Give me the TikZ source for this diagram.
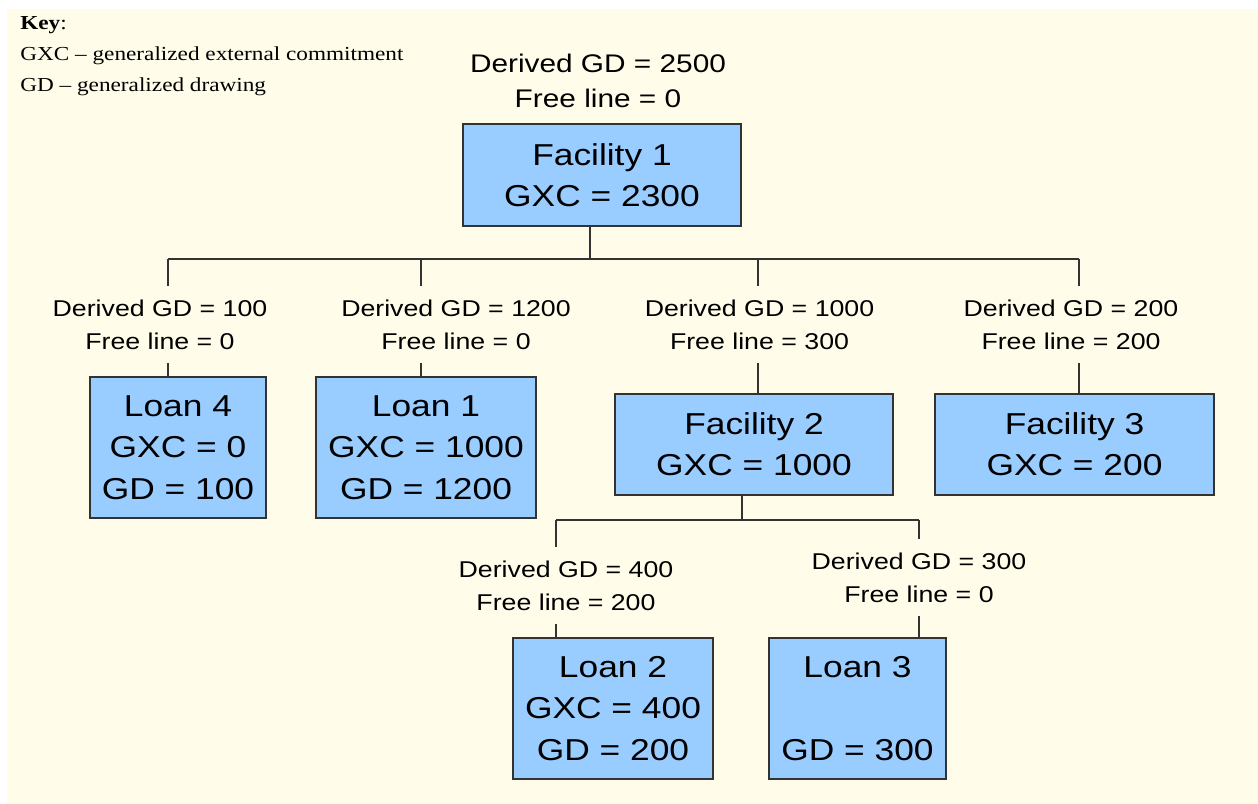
\documentclass[tikz,border=0pt]{standalone}
\usepackage{fontspec}
\setmainfont{Liberation Sans}[FakeStretch=1.17]
\newfontfamily\keyfont{Liberation Serif}[FakeStretch=1.17]
\definecolor{bgcream}{RGB}{255,253,234}
\definecolor{boxblue}{RGB}{153,204,255}
\definecolor{edgegray}{RGB}{51,51,51}

\tikzset{
    acct/.style={draw=edgegray, line width=0.9pt, fill=boxblue, inner sep=0pt, align=center, font=\fontsize{17.2}{23.5}\selectfont},
    gdlabel/.style={inner sep=0pt, minimum height=1.52cm, align=center, font=\fontsize{13}{18.8}\selectfont},
    tie/.style={draw=edgegray, line width=0.7pt}
}

\begin{document}
\begin{tikzpicture}[x=0.02cm, y=-0.02cm]
    \useasboundingbox (0,0) rectangle (1258,804);
    \fill[bgcream] (7,9) rectangle (1258,804);

    \node[anchor=north west, align=left, inner sep=0pt, font=\keyfont\fontsize{11.3}{17.6}\selectfont] (key) at (20,16) {\spaceskip=0.33em\relax\textbf{Key}:\\ GXC \textendash\ generalized external commitment\\ GD \textendash\ generalized drawing};

    \node[inner sep=0pt, align=center, font=\fontsize{14.5}{19.9}\selectfont] (toplbl) at (598,81) {Derived GD = 2500\\ Free line = 0};
    \node[acct, minimum width=5.56cm, minimum height=2.04cm] (fac1) at (602,175) {Facility 1\\ GXC = 2300};

    \node[gdlabel] (gd4) at (160,324.5) {Derived GD = 100\\ Free line = 0};
    \node[gdlabel] (gd1) at (456,324.5) {Derived GD = 1200\\ Free line = 0};
    \node[gdlabel] (gdf2) at (759.5,324.5) {Derived GD = 1000\\ Free line = 300};
    \node[gdlabel] (gdf3) at (1071,324.5) {Derived GD = 200\\ Free line = 200};

    \node[acct, minimum width=3.52cm, minimum height=2.82cm] (loan4) at (178,447.5) {Loan 4\\ GXC = 0\\ GD = 100};
    \node[acct, minimum width=4.4cm, minimum height=2.82cm] (loan1) at (426,447.5) {Loan 1\\ GXC = 1000\\ GD = 1200};
    \node[acct, minimum width=5.56cm, minimum height=2.02cm] (fac2) at (754,444.5) {Facility 2\\ GXC = 1000};
    \node[acct, minimum width=5.58cm, minimum height=2.02cm] (fac3) at (1074.5,444.5) {Facility 3\\ GXC = 200};

    \node[gdlabel] (gd2) at (566,585.5) {Derived GD = 400\\ Free line = 200};
    \node[gdlabel] (gd3) at (919,577.5) {Derived GD = 300\\ Free line = 0};
    \node[acct, minimum width=4cm, minimum height=2.82cm] (loan2) at (613,708.5) {Loan 2\\ GXC = 400\\ GD = 200};
    \node[acct, minimum width=3.54cm, minimum height=2.82cm] (loan3) at (857.5,708.5) {Loan 3\\ \strut\\ GD = 300};

    \coordinate (bus1) at (590,259);
    \coordinate (bus2) at (742,520);
    \foreach \name/\x in {t4/168, t1/421, tf2/758, tf3/1079}
        \coordinate (\name) at (\x,259);
    \foreach \name/\x in {t2/556, t3/919}
        \coordinate (\name) at (\x,520);

    \draw[tie] (fac1.south -| bus1) -- (bus1);
    \draw[tie] (t4) -- (tf3);
    \draw[tie] (fac2.south -| bus2) -- (bus2);
    \draw[tie] (t2) -- (t3);
    \foreach \t/\g/\b in {t4/gd4/loan4, t1/gd1/loan1, tf2/gdf2/fac2, tf3/gdf3/fac3, t2/gd2/loan2, t3/gd3/loan3} {
        \draw[tie] (\t) -- (\t |- \g.north);
        \draw[tie] (\t |- \g.south) -- (\t |- \b.north);
    }
\end{tikzpicture}
\end{document}
